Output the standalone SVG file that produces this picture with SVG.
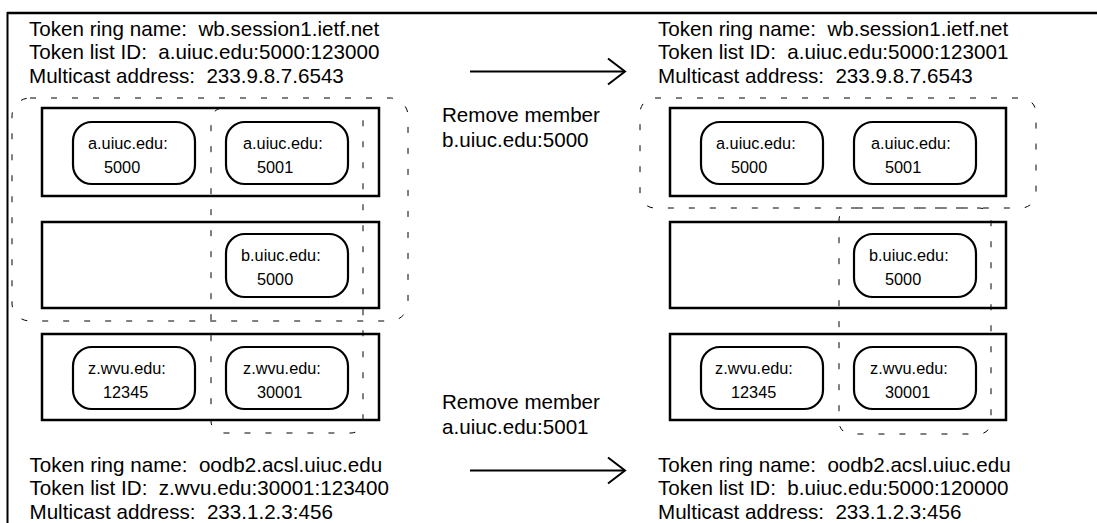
<svg xmlns="http://www.w3.org/2000/svg" width="1097" height="523" viewBox="0 0 1097 523" xml:space="preserve">
<defs>
<style>
.t{font-family:"Liberation Sans",Arial,sans-serif;font-size:20.6px;fill:#000;white-space:pre}
.p{font-family:"Liberation Sans",Arial,sans-serif;font-size:16.3px;fill:#000}
.box{fill:#fff;stroke:#000;stroke-width:2.5}
.pill{fill:#fff;stroke:#000;stroke-width:2.2}
.ring{fill:none;stroke:#000;stroke-width:1;stroke-dasharray:6 15}
.frame{stroke:#000;fill:none}
.arr{stroke:#000;stroke-width:2;fill:none}
</style>
<marker id="open" markerUnits="userSpaceOnUse" markerWidth="20" markerHeight="30" viewBox="0 0 20 30" refX="18" refY="15" orient="auto">
<polyline points="1,2 18,15 1,28" fill="none" stroke="#000" stroke-width="2"/>
</marker>
</defs>
<rect width="1097" height="523" fill="#fff"/>
<g id="frame">
<line class="frame" x1="7" y1="13" x2="1097" y2="13" stroke-width="2.5"/>
<line class="frame" x1="7.5" y1="12" x2="7.5" y2="523" stroke-width="2"/>
</g>

<g id="state-left">
<g id="box-l1"><rect class="box" x="42" y="108" width="337" height="88"/></g>
<g id="box-l2"><rect class="box" x="42" y="222" width="337" height="86"/></g>
<g id="box-l3"><rect class="box" x="42" y="334" width="337" height="86"/></g>
<g id="pill-l-a5000"><rect class="pill" x="73" y="122" width="122" height="62" rx="19"/><text class="p" x="88" y="149">a.uiuc.edu:</text><text class="p" x="104" y="173">5000</text></g>
<g id="pill-l-a5001"><rect class="pill" x="226" y="122" width="122" height="62" rx="19"/><text class="p" x="243" y="149">a.uiuc.edu:</text><text class="p" x="257" y="173">5001</text></g>
<g id="pill-l-b5000"><rect class="pill" x="226" y="234" width="122" height="63" rx="19"/><text class="p" x="241" y="261">b.uiuc.edu:</text><text class="p" x="257" y="285">5000</text></g>
<g id="pill-l-z12345"><rect class="pill" x="73" y="347" width="122" height="62" rx="19"/><text class="p" x="88" y="374">z.wvu.edu:</text><text class="p" x="103" y="398">12345</text></g>
<g id="pill-l-z30001"><rect class="pill" x="226" y="347" width="122" height="62" rx="19"/><text class="p" x="243" y="374">z.wvu.edu:</text><text class="p" x="257" y="398">30001</text></g>
<g id="ring-l-wb"><rect class="ring" x="12" y="98" width="396" height="223" rx="18"/></g>
<g id="ring-l-oodb2"><rect class="ring" x="211" y="108" width="152" height="325" rx="12"/></g>
<g id="info-l-top">
<text class="t" x="29" y="35.5">Token ring name:  wb.session1.ietf.net</text>
<text class="t" x="29" y="59">Token list ID:  a.uiuc.edu:5000:123000</text>
<text class="t" x="29" y="82.5">Multicast address:  233.9.8.7.6543</text>
</g>
<g id="info-l-bottom">
<text class="t" x="29.5" y="471.5">Token ring name:  oodb2.acsl.uiuc.edu</text>
<text class="t" x="29.5" y="495">Token list ID:  z.wvu.edu:30001:123400</text>
<text class="t" x="29.5" y="518.5">Multicast address:  233.1.2.3:456</text>
</g>
</g>

<g id="state-right">
<g id="box-r1"><rect class="box" x="670" y="108" width="336" height="88"/></g>
<g id="box-r2"><rect class="box" x="670" y="222" width="336" height="86"/></g>
<g id="box-r3"><rect class="box" x="670" y="334" width="336" height="86"/></g>
<g id="pill-r-a5000"><rect class="pill" x="701" y="122" width="122" height="62" rx="19"/><text class="p" x="716" y="149">a.uiuc.edu:</text><text class="p" x="731" y="173">5000</text></g>
<g id="pill-r-a5001"><rect class="pill" x="854" y="122" width="122" height="62" rx="19"/><text class="p" x="871" y="149">a.uiuc.edu:</text><text class="p" x="885" y="173">5001</text></g>
<g id="pill-r-b5000"><rect class="pill" x="854" y="234" width="122" height="63" rx="19"/><text class="p" x="869" y="261">b.uiuc.edu:</text><text class="p" x="885" y="285">5000</text></g>
<g id="pill-r-z12345"><rect class="pill" x="701" y="347" width="122" height="62" rx="19"/><text class="p" x="715" y="374">z.wvu.edu:</text><text class="p" x="731" y="398">12345</text></g>
<g id="pill-r-z30001"><rect class="pill" x="854" y="347" width="122" height="62" rx="19"/><text class="p" x="870" y="374">z.wvu.edu:</text><text class="p" x="885" y="398">30001</text></g>
<g id="ring-r-wb"><rect class="ring" x="640" y="98" width="396" height="110" rx="15"/></g>
<g id="ring-r-oodb2"><rect class="ring" x="839" y="208" width="152" height="226" rx="12"/></g>
<g id="info-r-top">
<text class="t" x="658" y="35.5">Token ring name:  wb.session1.ietf.net</text>
<text class="t" x="658" y="59">Token list ID:  a.uiuc.edu:5000:123001</text>
<text class="t" x="658" y="82.5">Multicast address:  233.9.8.7.6543</text>
</g>
<g id="info-r-bottom">
<text class="t" x="658" y="471.5">Token ring name:  oodb2.acsl.uiuc.edu</text>
<text class="t" x="658" y="495">Token list ID:  b.uiuc.edu:5000:120000</text>
<text class="t" x="658" y="518.5">Multicast address:  233.1.2.3:456</text>
</g>
</g>

<g id="connectors">
<line class="arr" x1="470" y1="71.5" x2="625" y2="71.5" marker-end="url(#open)"/>
<line class="arr" x1="470" y1="470.5" x2="625" y2="470.5" marker-end="url(#open)"/>
</g>
<g id="labels">
<text class="t" x="442" y="121.5">Remove member</text>
<text class="t" x="442" y="146.5">b.uiuc.edu:5000</text>
<text class="t" x="442" y="409">Remove member</text>
<text class="t" x="442" y="434">a.uiuc.edu:5001</text>
</g>
</svg>
